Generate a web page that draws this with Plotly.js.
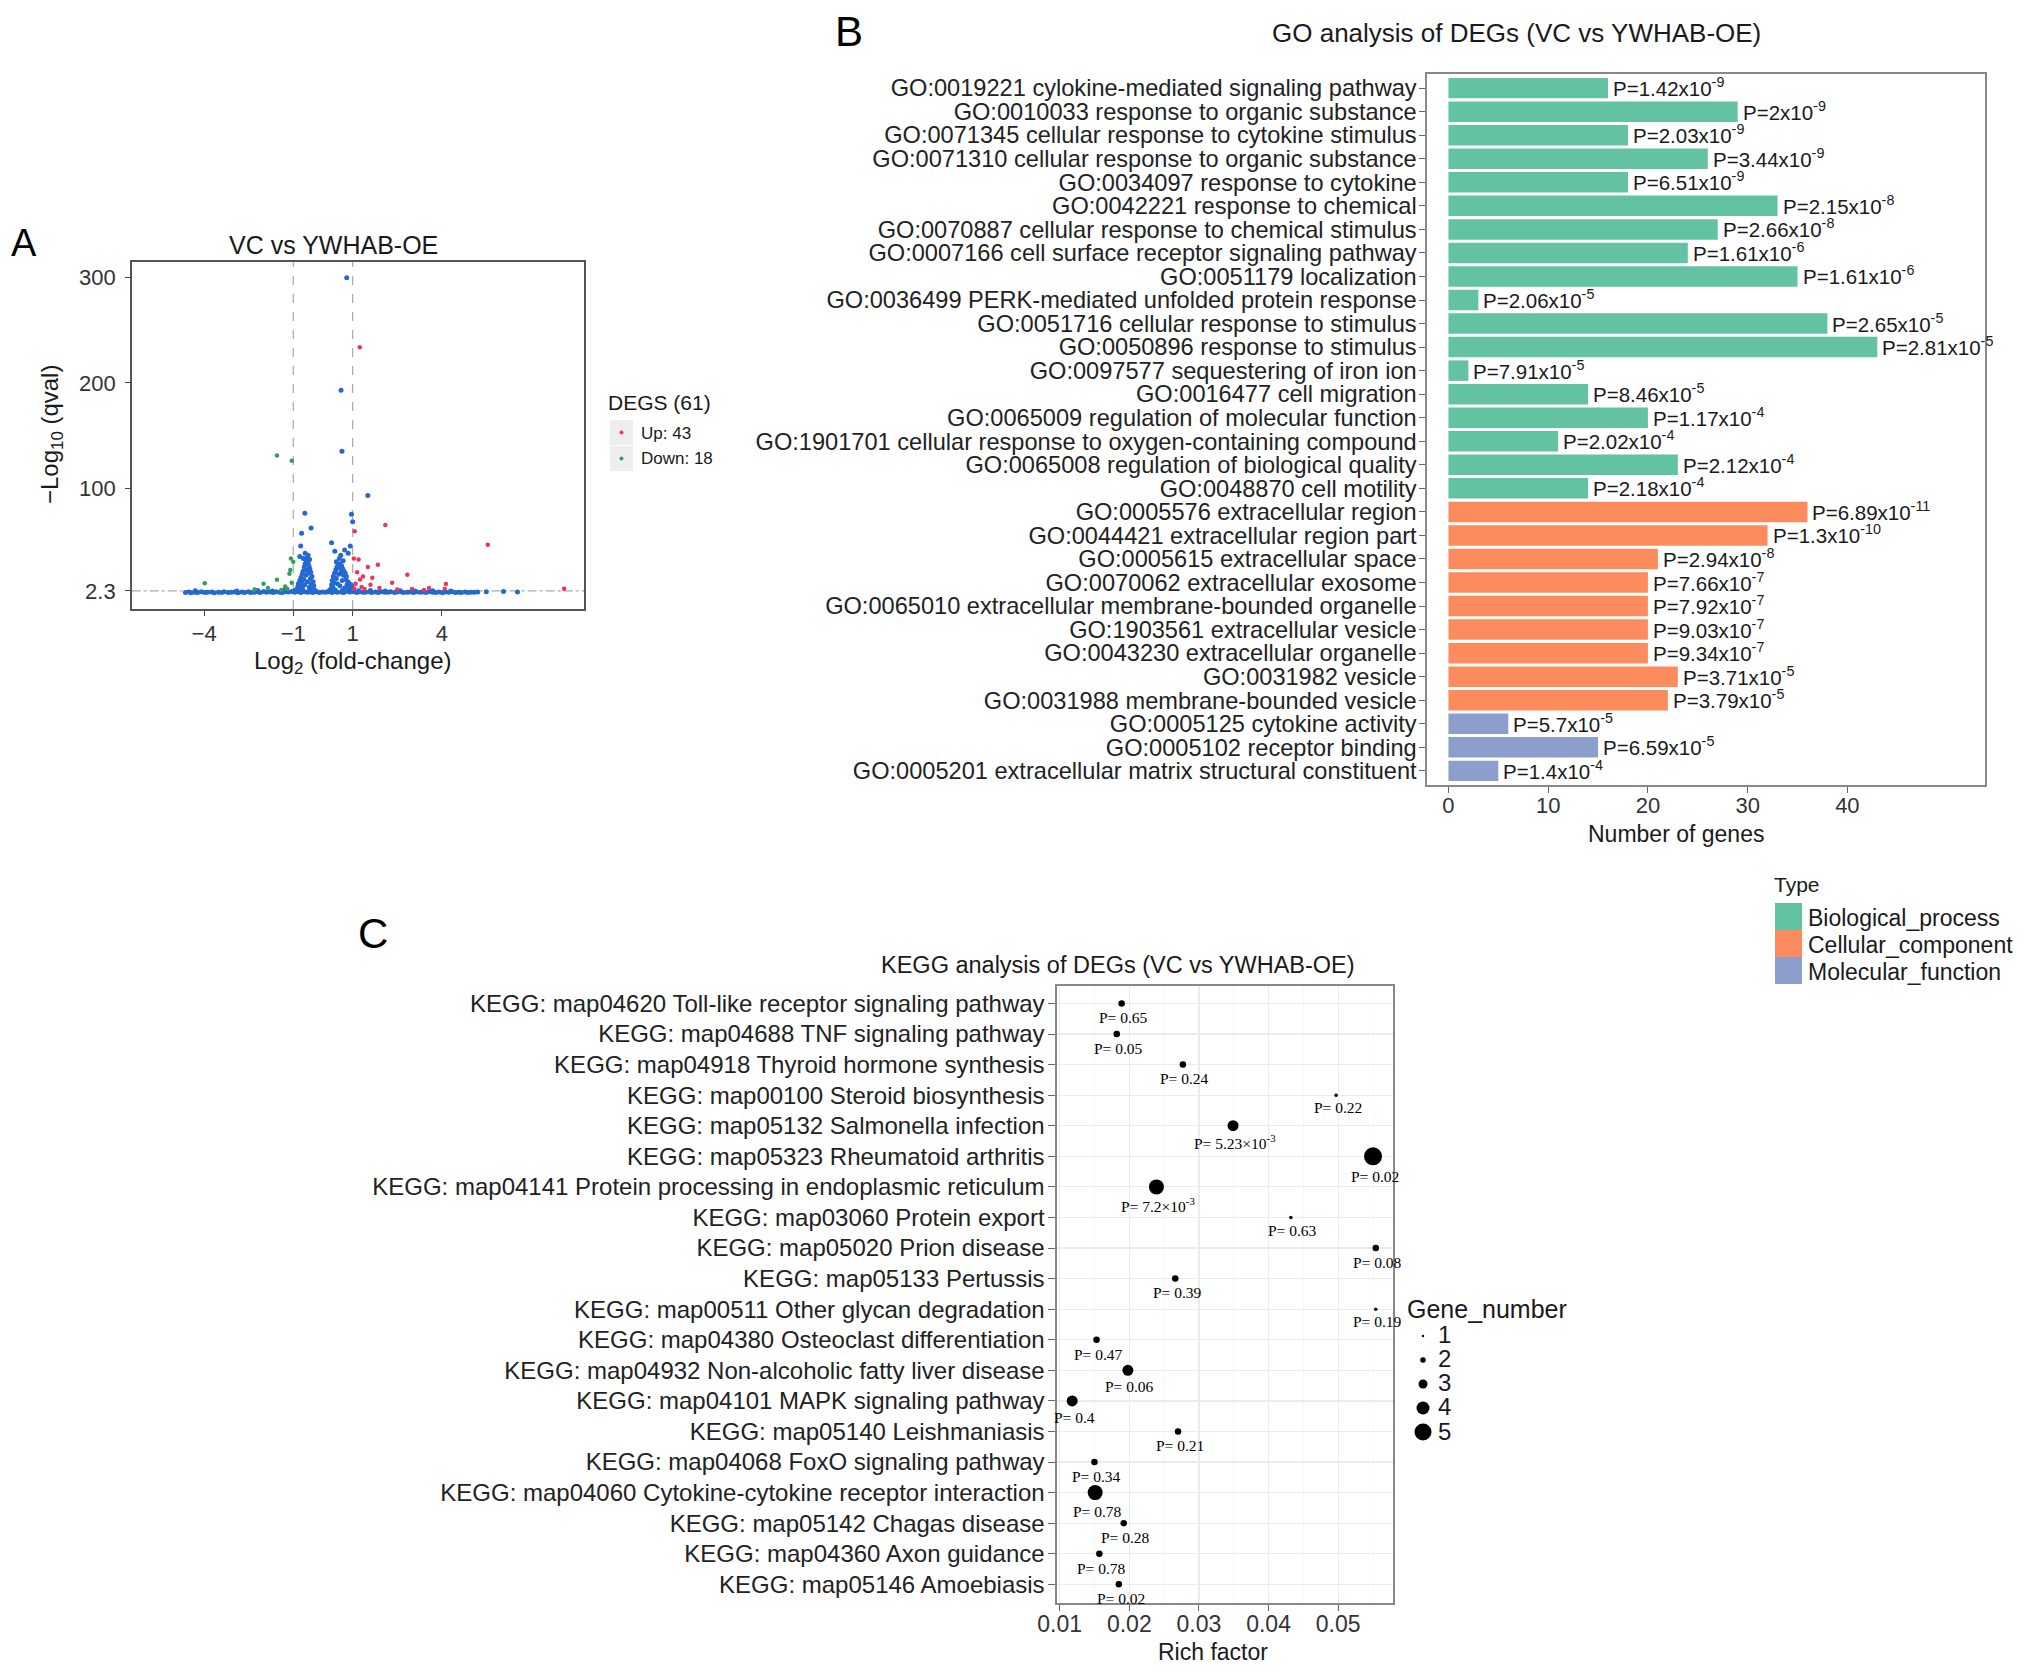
<!DOCTYPE html>
<html><head><meta charset="utf-8">
<script src="https://cdn.plot.ly/plotly-3.0.1.min.js"></script>
<style>html,body{margin:0;padding:0;background:#fff}</style>
</head><body><div id="g" style="width:2032px;height:1673px"></div>
<script>
// ---------------- Panel A data (volcano) ----------------
const volcanoTitle = 'VC vs YWHAB-OE';
const volcanoXTicks = [-4, -1, 1, 4];
const volcanoXTickText = ['\u22124', '\u22121', '1', '4'];
const volcanoYTicks = [2.3, 100, 200, 300];
const volcanoYTickText = ['2.3', '100', '200', '300'];
const foldCut = [-1, 1];
const qCut = 2.3;
const degTotal = 61, upCount = 43, downCount = 18;
// non-DEG points [log2FC, -log10 q]
const bandPoints = [[-4.63,0.8],[-4.52,1.2],[-4.44,0.5],[-4.31,1.0],[-4.22,0.7],[-4.09,1.3],[-3.98,0.6],[-3.88,0.9],[-3.74,1.1],[-3.66,0.4],
[-3.52,1.0],[-3.41,0.8],[-3.33,1.4],[-3.19,0.6],[-3.08,0.9],[-2.97,1.2],[-2.86,0.5],[-2.73,1.1],[-2.64,0.8],[-2.51,1.5],
[-2.43,0.7],[-2.31,1.0],[-2.2,1.3],[-2.12,0.6],[-1.99,1.6],[-1.9,0.9],[-1.78,1.2],[-1.67,0.7],[-1.58,1.5],[-1.46,1.0],
[-1.37,0.8],[-1.24,1.4],[-1.16,1.1],[-1.04,1.7],[-0.95,0.9],[-0.83,1.3],[-0.74,0.6],[-0.61,1.5],[-0.52,1.0],[-0.41,1.2],
[-0.33,0.8],[-0.21,1.4],[-0.12,0.7],[-0.02,1.1],[0.09,0.9],[0.18,1.3],[0.3,0.6],[0.41,1.5],[0.49,1.0],[0.62,1.2],
[0.7,0.8],[0.83,1.6],[0.91,1.1],[1.03,1.3],[1.14,0.7],[1.22,1.4],[1.35,0.9],[1.43,1.0],[1.56,1.5],[1.64,0.8],
[1.77,1.2],[1.86,0.6],[1.97,1.4],[2.08,1.0],[2.19,0.9],[2.28,1.3],[2.41,0.7],[2.5,1.1],[2.63,1.5],[2.71,0.8],
[2.84,1.0],[2.93,1.2],[3.05,0.6],[3.14,1.4],[3.27,0.9],[3.36,1.1],[3.47,0.7],[3.58,1.3],[3.69,1.0],[3.8,0.8],
[3.91,1.2],[4.02,0.5],[4.13,1.1],[4.24,0.9],[4.35,1.3],[4.46,0.6],[4.57,1.0],[4.66,0.8],[4.79,1.2],[4.88,0.7],
[4.99,1.0],[5.1,0.9],[5.21,1.1],[5.5,1.4],[6.08,1.6],[6.55,1.2],[-4.3,2.4],[-2.9,2.1],[-2.2,2.6],[-1.7,2.2],
[-1.3,2.8],[-0.95,2.5],[-0.7,3.2],[-0.45,2.7],[-0.25,2.2],[0.2,2.4],[0.4,3.0],[0.65,2.6],[0.9,2.9],[1.2,2.3],
[1.6,2.5],[2.1,2.2],[2.6,2.4],[3.1,2.1],[3.7,2.3],[4.3,2.2]];
const clusterPoints = [[-0.88,3],[-0.85,6],[-0.83,9],[-0.8,4],[-0.78,12],[-0.76,7],[-0.74,15],[-0.72,10],[-0.7,18],[-0.69,5],
[-0.67,21],[-0.65,13],[-0.63,25],[-0.62,8],[-0.6,28],[-0.58,17],[-0.56,31],[-0.55,22],[-0.53,34],[-0.52,11],
[-0.5,29],[-0.49,19],[-0.47,26],[-0.46,6],[-0.44,23],[-0.42,14],[-0.41,20],[-0.39,9],[-0.37,16],[-0.35,4],
[-0.33,11],[-0.31,7],[-0.28,3],[-0.6,38],[-0.5,36],[-0.66,33],[-0.45,32],[-0.61,76],[-0.40,62],[-0.72,57],
[-0.75,45],[-0.78,35],[0.26,4],[0.29,8],[0.31,12],[0.33,6],[0.35,16],[0.37,10],[0.39,19],[0.41,3],
[0.43,22],[0.45,14],[0.47,25],[0.49,9],[0.51,27],[0.53,18],[0.55,24],[0.57,7],[0.59,28],[0.61,20],
[0.63,26],[0.65,12],[0.67,23],[0.69,17],[0.71,21],[0.73,5],[0.75,19],[0.77,13],[0.79,16],[0.81,8],
[0.84,11],[0.87,6],[0.9,9],[0.94,4],[0.97,7],[0.55,33],[0.45,30],[0.68,31],[0.6,36],[0.80,300],
[0.61,193],[0.64,135],[1.51,93],[0.96,75],[1.0,68],[0.29,48],[0.73,41],[0.4,40],[0.85,38],[0.92,45]];
const upPoints = [[1.24,234],[2.10,65],[1.07,59],[5.55,46],[1.04,33],[1.2,32],[1.51,25],[1.85,27],[2.84,17.5],[4.14,8.7],
[3.57,5],[2.33,10],[1.66,14.7],[1.25,13],[8.12,4.2],[1.1,9],[1.3,6],[1.4,4],[1.6,8],[1.9,5],
[2.5,3.5],[3.0,4],[3.4,3],[1.15,20],[1.35,16],[4.1,4],[1.05,4.5]];
const downPoints = [[-1.55,131],[-1.05,126],[-1.08,33],[-1.0,30],[-1.13,18.6],[-1.55,12.8],[-2.0,9],[-1.85,5],[-1.27,6.5],
[-1.1,22],[-3.98,9.6],[-1.2,4],[-1.05,10],[-2.3,3.5],[-1.4,3]];

// ---------------- Panel B data (GO) ----------------
const goTitle = 'GO analysis of DEGs (VC vs YWHAB-OE)';
const goTerms = [
'GO:0019221 cylokine-mediated signaling pathway','GO:0010033 response to organic substance',
'GO:0071345 cellular response to cytokine stimulus','GO:0071310 cellular response to organic substance',
'GO:0034097 response to cytokine','GO:0042221 response to chemical',
'GO:0070887 cellular response to chemical stimulus','GO:0007166 cell surface receptor signaling pathway',
'GO:0051179 localization','GO:0036499 PERK-mediated unfolded protein response',
'GO:0051716 cellular response to stimulus','GO:0050896 response to stimulus',
'GO:0097577 sequestering of iron ion','GO:0016477 cell migration',
'GO:0065009 regulation of molecular function','GO:1901701 cellular response to oxygen-containing compound',
'GO:0065008 regulation of biological quality','GO:0048870 cell motility',
'GO:0005576 extracellular region','GO:0044421 extracellular region part',
'GO:0005615 extracellular space','GO:0070062 extracellular exosome',
'GO:0065010 extracellular membrane-bounded organelle','GO:1903561 extracellular vesicle',
'GO:0043230 extracellular organelle','GO:0031982 vesicle',
'GO:0031988 membrane-bounded vesicle','GO:0005125 cytokine activity',
'GO:0005102 receptor binding','GO:0005201 extracellular matrix structural constituent'];
const goGenes = [16,29,18,26,18,33,27,24,35,3,38,43,2,14,20,11,23,14,36,32,21,20,20,20,20,23,22,6,15,5];
const goPMant = ['1.42','2','2.03','3.44','6.51','2.15','2.66','1.61','1.61','2.06','2.65','2.81','7.91','8.46','1.17',
'2.02','2.12','2.18','6.89','1.3','2.94','7.66','7.92','9.03','9.34','3.71','3.79','5.7','6.59','1.4'];
const goPExp = [-9,-9,-9,-9,-9,-8,-8,-6,-6,-5,-5,-5,-5,-5,-4,-4,-4,-4,-11,-10,-8,-7,-7,-7,-7,-5,-5,-5,-5,-4];
const goType = ['Biological_process','Biological_process','Biological_process','Biological_process','Biological_process',
'Biological_process','Biological_process','Biological_process','Biological_process','Biological_process',
'Biological_process','Biological_process','Biological_process','Biological_process','Biological_process',
'Biological_process','Biological_process','Biological_process','Cellular_component','Cellular_component',
'Cellular_component','Cellular_component','Cellular_component','Cellular_component','Cellular_component',
'Cellular_component','Cellular_component','Molecular_function','Molecular_function','Molecular_function'];
const goTypes = ['Biological_process','Cellular_component','Molecular_function'];
const goXTicks = [0,10,20,30,40];

// ---------------- Panel C data (KEGG) ----------------
const keggTitle = 'KEGG analysis of DEGs (VC vs YWHAB-OE)';
const keggTerms = [
'KEGG: map04620 Toll-like receptor signaling pathway','KEGG: map04688 TNF signaling pathway',
'KEGG: map04918 Thyroid hormone synthesis','KEGG: map00100 Steroid biosynthesis',
'KEGG: map05132 Salmonella infection','KEGG: map05323 Rheumatoid arthritis',
'KEGG: map04141 Protein processing in endoplasmic reticulum','KEGG: map03060 Protein export',
'KEGG: map05020 Prion disease','KEGG: map05133 Pertussis',
'KEGG: map00511 Other glycan degradation','KEGG: map04380 Osteoclast differentiation',
'KEGG: map04932 Non-alcoholic fatty liver disease','KEGG: map04101 MAPK signaling pathway',
'KEGG: map05140 Leishmaniasis','KEGG: map04068 FoxO signaling pathway',
'KEGG: map04060 Cytokine-cytokine receptor interaction','KEGG: map05142 Chagas disease',
'KEGG: map04360 Axon guidance','KEGG: map05146 Amoebiasis'];
const keggRich = [0.0189,0.0182,0.0277,0.0497,0.0349,0.0550,0.0239,0.0432,0.0554,0.0266,
0.0554,0.0153,0.0198,0.0118,0.0270,0.0150,0.0151,0.0192,0.0157,0.0185];
const keggGenes = [2,2,2,1,3,5,4,1,2,2,1,2,3,3,2,2,4,2,2,2];
const keggP = ['0.65','0.05','0.24','0.22','5.23\u00d710<sup>-3</sup>','0.02','7.2\u00d710<sup>-3</sup>','0.63','0.08','0.39',
'0.19','0.47','0.06','0.4','0.21','0.34','0.78','0.28','0.78','0.02'];
const geneLegend = [1,2,3,4,5];

// ---------------- styling ----------------
const W = 2032, H = 1673;
const px = x => x / W, py = y => 1 - y / H;
const FONT = 'Liberation Sans, Arial, Helvetica, sans-serif';
const SERIF = 'Liberation Serif, Times New Roman, serif';
const TXT = '#1a1a1a';
const typeColor = {Biological_process:'#62c2a2', Cellular_component:'#fc8c5e', Molecular_function:'#8c9fcc'};
const sizeFor = g => ({1:3.5, 2:6.5, 3:11, 4:15, 5:18})[g];
const legendSize = g => ({1:2.5, 2:5.5, 3:9, 4:13, 5:17})[g];

const traces = [];
const xy = (arr, i) => arr.map(p => p[i]);
const nsAll = bandPoints.concat(clusterPoints);
traces.push({type:'scatter', mode:'markers', x: xy(nsAll,0), y: xy(nsAll,1), xaxis:'x', yaxis:'y',
  marker:{size:5, color:'#2468d2', opacity:1}, showlegend:false, hoverinfo:'skip'});
traces.push({type:'scatter', mode:'markers', x: xy(upPoints,0), y: xy(upPoints,1), xaxis:'x', yaxis:'y',
  marker:{size:4.5, color:'#f0345c', opacity:1}, name:'Up: ' + upCount, showlegend:false, hoverinfo:'skip'});
traces.push({type:'scatter', mode:'markers', x: xy(downPoints,0), y: xy(downPoints,1), xaxis:'x', yaxis:'y',
  marker:{size:4.5, color:'#32a05c', opacity:1}, name:'Down: ' + downCount, showlegend:false, hoverinfo:'skip'});

traces.push({type:'bar', orientation:'h', x: goGenes, y: goTerms, xaxis:'x2', yaxis:'y2', width:0.87,
  marker:{color: goType.map(t => typeColor[t]), line:{width:0}}, showlegend:false, hoverinfo:'skip'});

traces.push({type:'scatter', mode:'markers', x: keggRich, y: keggTerms, xaxis:'x3', yaxis:'y3',
  marker:{size: keggGenes.map(sizeFor), color:'#000000', opacity:1, line:{width:0}}, showlegend:false, hoverinfo:'skip', cliponaxis:false});

const ann = [];
const A = (o) => ann.push(Object.assign({showarrow:false, font:{family:FONT, color:TXT, size:20}}, o));

// Panel A texts
A({text:'A', xref:'paper', yref:'paper', x:px(9), y:py(243), xanchor:'left', yanchor:'middle', font:{family:FONT,size:38,color:'#000'}});
A({text:volcanoTitle, xref:'paper', yref:'paper', x:px(333), y:py(245), xanchor:'center', yanchor:'middle', font:{family:FONT,size:25,color:TXT}});
A({text:'\u2212Log<sub>10</sub> (qval)', xref:'paper', yref:'paper', x:px(51), y:py(435), textangle:-90, xanchor:'center', yanchor:'middle', font:{family:FONT,size:24,color:TXT}});
A({text:'Log<sub>2</sub> (fold-change)', xref:'paper', yref:'paper', x:px(352), y:py(663), xanchor:'center', yanchor:'middle', font:{family:FONT,size:24,color:TXT}});
A({text:'DEGS (' + degTotal + ')', xref:'paper', yref:'paper', x:px(606), y:py(402), xanchor:'left', yanchor:'middle', font:{family:FONT,size:21,color:TXT}});
A({text:'Up: ' + upCount, xref:'paper', yref:'paper', x:px(639), y:py(433), xanchor:'left', yanchor:'middle', font:{family:FONT,size:17,color:TXT}});
A({text:'Down: ' + downCount, xref:'paper', yref:'paper', x:px(639), y:py(458), xanchor:'left', yanchor:'middle', font:{family:FONT,size:17,color:TXT}});

// Panel B texts
A({text:'B', xref:'paper', yref:'paper', x:px(833), y:py(32), xanchor:'left', yanchor:'middle', font:{family:FONT,size:42,color:'#000'}});
A({text:goTitle, xref:'paper', yref:'paper', x:px(1516), y:py(33), xanchor:'center', yanchor:'middle', font:{family:FONT,size:26,color:TXT}});
A({text:'Number of genes', xref:'paper', yref:'paper', x:px(1676), y:py(834), xanchor:'center', yanchor:'middle', font:{family:FONT,size:23,color:TXT}});
goTerms.forEach((t, i) => A({text:'P=' + goPMant[i] + 'x10<sup>' + goPExp[i] + '</sup>', xref:'x2', yref:'y2', x:goGenes[i], y:t,
  xanchor:'left', yanchor:'middle', xshift:3, yshift:1, font:{family:FONT,size:20.5,color:TXT}}));
A({text:'Type', xref:'paper', yref:'paper', x:px(1772), y:py(885), xanchor:'left', yanchor:'middle', font:{family:FONT,size:21,color:TXT}});
goTypes.forEach((t, i) => A({text:t, xref:'paper', yref:'paper', x:px(1806), y:py(918 + i*27), xanchor:'left', yanchor:'middle', font:{family:FONT,size:23,color:TXT}}));

// Panel C texts
A({text:'C', xref:'paper', yref:'paper', x:px(356), y:py(933), xanchor:'left', yanchor:'middle', font:{family:FONT,size:42,color:'#000'}});
A({text:keggTitle, xref:'paper', yref:'paper', x:px(1118), y:py(965), xanchor:'center', yanchor:'middle', font:{family:FONT,size:23.5,color:TXT}});
A({text:'Rich factor', xref:'paper', yref:'paper', x:px(1213), y:py(1652), xanchor:'center', yanchor:'middle', font:{family:FONT,size:23,color:TXT}});
keggTerms.forEach((t, i) => A({text:'P= ' + keggP[i], xref:'x3', yref:'y3', x:keggRich[i], y:t, xanchor:'center', yanchor:'middle',
  xshift:2, yshift:-(11 + sizeFor(keggGenes[i]) / 2), font:{family:SERIF,size:15.5,color:'#000'}}));
A({text:'Gene_number', xref:'paper', yref:'paper', x:px(1405), y:py(1309), xanchor:'left', yanchor:'middle', font:{family:FONT,size:25,color:TXT}});
geneLegend.forEach((g, i) => A({text:String(g), xref:'paper', yref:'paper', x:px(1436), y:py(1334 + i*24.3), xanchor:'left', yanchor:'middle', font:{family:FONT,size:24,color:TXT}}));

// shapes
const shapes = [];
foldCut.forEach(v => shapes.push({type:'line', xref:'x', yref:'y domain', x0:v, x1:v, y0:0, y1:1, layer:'below', line:{color:'#aaaaaa', width:1.2, dash:'dash'}}));
shapes.push({type:'line', xref:'x domain', yref:'y', x0:0, x1:1, y0:qCut, y1:qCut, layer:'below', line:{color:'#aaaaaa', width:1.2, dash:'dashdot'}});
// legend A keys
[[420,445,'#f0345c'],[446,471,'#32a05c']].forEach(k => {
  shapes.push({type:'rect', xref:'paper', yref:'paper', x0:px(610), x1:px(633), y0:py(k[1]), y1:py(k[0]), fillcolor:'#eeeeee', line:{width:0}});
  const cy = (k[0] + k[1]) / 2;
  shapes.push({type:'circle', xref:'paper', yref:'paper', xsizemode:'pixel', ysizemode:'pixel', xanchor:px(621.5), yanchor:py(cy), x0:-2, x1:2, y0:-2, y1:2, fillcolor:k[2], line:{width:0}});
});
// legend B swatches
goTypes.forEach((t, i) => shapes.push({type:'rect', xref:'paper', yref:'paper', x0:px(1775), x1:px(1802), y0:py(930 + i*27), y1:py(903 + i*27), fillcolor:typeColor[t], line:{width:0}}));
// legend C dots
geneLegend.forEach((g, i) => {
  const r = legendSize(g) / 2;
  shapes.push({type:'circle', xref:'paper', yref:'paper', xsizemode:'pixel', ysizemode:'pixel', xanchor:px(1423), yanchor:py(1336 + i*24), x0:-r, x1:r, y0:-r, y1:r, fillcolor:'#000', line:{width:0}});
});

const axBase = {showline:true, mirror:true, zeroline:false, ticks:'outside', automargin:false, fixedrange:true};
const layout = {
  width: W, height: H, margin:{l:0, r:0, t:0, b:0}, paper_bgcolor:'#fff', plot_bgcolor:'#fff',
  font:{family:FONT, color:TXT}, showlegend:false,
  xaxis: Object.assign({}, axBase, {domain:[px(131.7), px(584)], anchor:'y', range:[-6.44, 8.79], tickmode:'array', tickvals:volcanoXTicks, ticktext:volcanoXTickText,
    showgrid:false, linecolor:'#555', linewidth:1.6, ticklen:5, tickcolor:'#444', tickfont:{size:22, color:'#333'}, ticklabelstandoff:-1}),
  yaxis: Object.assign({}, axBase, {domain:[py(609), py(262)], anchor:'x', range:[-15, 315], tickmode:'array', tickvals:volcanoYTicks, ticktext:volcanoYTickText,
    showgrid:false, linecolor:'#555', linewidth:1.6, ticklen:5, tickcolor:'#444', tickfont:{size:22, color:'#333'}, ticklabelstandoff:5}),
  xaxis2: Object.assign({}, axBase, {domain:[px(1427), px(1985)], anchor:'y2', range:[-2.15, 53.8], tickmode:'array', tickvals:goXTicks,
    showgrid:false, linecolor:'#888', linewidth:1.6, ticklen:6, tickcolor:'#666', tickfont:{size:22, color:'#333'}, ticklabelstandoff:-6}),
  yaxis2: Object.assign({}, axBase, {domain:[py(785), py(74)], anchor:'x2', type:'category', categoryorder:'array', categoryarray:goTerms, range:[29.6, -0.6],
    tickmode:'linear', tick0:0, dtick:1,
    showgrid:false, linecolor:'#888', linewidth:1.6, ticklen:6, tickcolor:'#666', tickfont:{size:23.6, color:'#222'}, ticklabelstandoff:-2}),
  xaxis3: Object.assign({}, axBase, {domain:[px(1057), px(1393)], anchor:'y3', range:[0.00962, 0.05787], tick0:0.01, dtick:0.01, tickformat:'.2f',
    showgrid:true, gridcolor:'#ebebeb', gridwidth:1.2, minor:{dtick:0.005, tick0:0.005, showgrid:true, gridcolor:'#f5f5f5', gridwidth:0.8, ticks:''},
    linecolor:'#888', linewidth:1.6, ticklen:6, tickcolor:'#666', tickfont:{size:23, color:'#333'}, ticklabelstandoff:-6}),
  yaxis3: Object.assign({}, axBase, {domain:[py(1603), py(986)], anchor:'x3', type:'category', categoryorder:'array', categoryarray:keggTerms, range:[19.61, -0.57],
    tickmode:'linear', tick0:0, dtick:1,
    showgrid:true, gridcolor:'#ebebeb', gridwidth:1.2, linecolor:'#888', linewidth:1.6, ticklen:7, tickcolor:'#666', tickfont:{size:24, color:'#222'}, ticklabelstandoff:-1}),
  annotations: ann, shapes: shapes
};
Plotly.newPlot('g', traces, layout, {staticPlot:true, displayModeBar:false});
</script></body></html>
